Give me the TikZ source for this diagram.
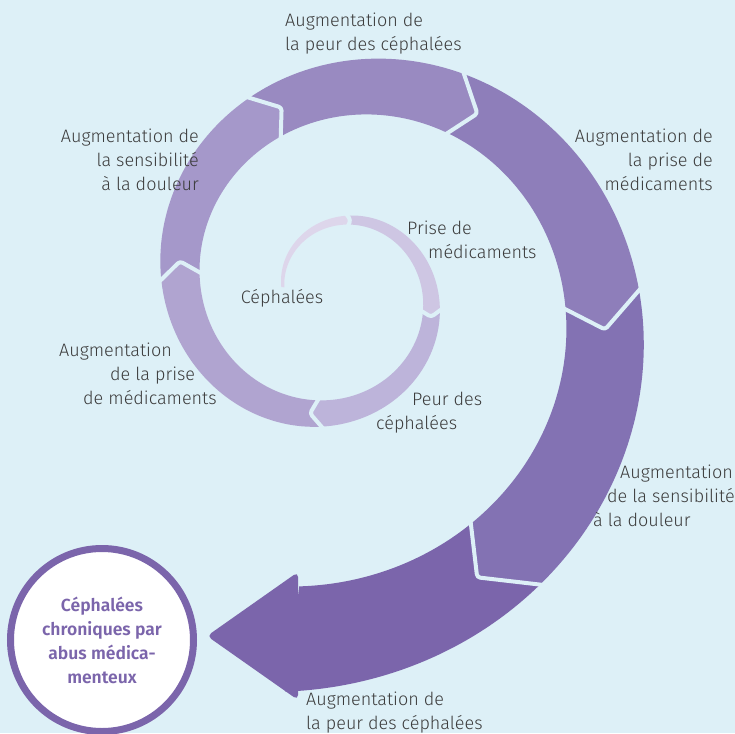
\documentclass[tikz,border=0pt]{standalone}
\usepackage{fontspec}
\setmainfont{Fira Sans}[UprightFont=* Light,BoldFont=* SemiBold]
\usepackage{xcolor}
\usetikzlibrary{calc}

\definecolor{backdrop}{HTML}{DDF0F7}
\definecolor{ink}{HTML}{3C3C3C}
\definecolor{turnA}{HTML}{DDD6EB}
\definecolor{turnB}{HTML}{CEC6E3}
\definecolor{turnC}{HTML}{BDB4DA}
\definecolor{turnD}{HTML}{B0A4D0}
\definecolor{turnE}{HTML}{A598CA}
\definecolor{turnF}{HTML}{998AC1}
\definecolor{turnG}{HTML}{8E7EBA}
\definecolor{turnH}{HTML}{8372B3}
\definecolor{turnI}{HTML}{7B65AB}

\begin{document}
\begin{tikzpicture}[x=1pt,y=-1pt,
    declare function={rmid(\t)=54.6*exp(0.0029152*\t);
      rwid(\t)=0.35*(rmid(\t)-51)+1.5;
      rout(\t)=rmid(\t)+rwid(\t)/2;
      rinn(\t)=rmid(\t)-rwid(\t)/2;
      lagout(\t)=deg(0.6*rwid(\t)/rout(\t));
      laginn(\t)=deg(0.2*rwid(\t)/rinn(\t));},
    lbl/.style={font=\fontsize{18}{24}\selectfont, text=ink, inner sep=0pt},
    seam/.style={draw=backdrop, line width=4pt, line join=round, line cap=round, rounded corners=3pt}]
  \useasboundingbox (0,0) rectangle (735,733);
  \fill[backdrop] (0,0) rectangle (735,733);

  % spiral band, one piece per step
  \begin{scope}[shift={(338,292)}]
    \foreach \a/\b/\ka/\kb/\col in {5/100/0/1/turnA, 100/195/1/1/turnB,
        195/283/1/1/turnC, 283/371/1/1/turnD, 371/433/1/1/turnE,
        433/488/1/1/turnF, 488/548/1/1/turnG, 548/604/1/1/turnH,
        604/637.5/1/0/turnI}{
      \pgfmathsetmacro\ao{\a-\ka*lagout(\a)}
      \pgfmathsetmacro\ai{\a-\ka*laginn(\a)}
      \pgfmathsetmacro\bo{\b-\kb*lagout(\b)}
      \pgfmathsetmacro\bi{\b-\kb*laginn(\b)}
      \fill[\col] plot[domain=\ao:\bo,samples=50] ({180+\x}:{rout(\x)})
        -- ({180+\b}:{rmid(\b)})
        -- plot[domain=\bi:\ai,samples=50] ({180+\x}:{rinn(\x)})
        -- ({180+\a}:{rmid(\a)}) -- cycle;
    }
    \foreach \p in {100,195,283,371,433,488,548,604}{
      \pgfmathsetmacro\po{\p-lagout(\p)}
      \pgfmathsetmacro\pn{\p-laginn(\p)}
      \draw[seam] ({180+\po}:{rout(\po)+2}) -- ({180+\p}:{rmid(\p)})
        -- ({180+\pn}:{rinn(\pn)-2});
    }
  \end{scope}
  % arrow head
  \fill[turnI, rounded corners=5pt] (298,572) -- (207,636) -- (298,700) -- cycle;

  \node[circle, draw=turnI, line width=7pt, fill=white, minimum size=183pt,
    inner sep=0pt, align=center, text=turnI,
    font=\bfseries\fontsize{17.5}{24}\selectfont] (abuse) at (102,640)
    {Céphalées\\chroniques par\\abus médica-\\menteux};

  \node[lbl] (start) at (282,298) {Céphalées};
  \node[lbl, anchor=north west, align=left] (prise) at (407,221)
    {Prise de\\\hspace*{21pt}médicaments};
  \node[lbl, anchor=north west, align=left] (peur) at (376,392)
    {\hspace*{36pt}Peur des\\céphalées};
  \node[lbl, anchor=north west, align=left] (prisetwo) at (59,343)
    {Augmentation\\\hspace*{51pt}de la prise\\\hspace*{24pt}de médicaments};
  \node[lbl, anchor=north east, align=right] (senstwo) at (199,129)
    {Augmentation de\\la sensibilité\\à la douleur};
  \node[lbl, anchor=north west, align=left] (peurtwo) at (285,13)
    {Augmentation de\\la peur des céphalées};
  \node[lbl, anchor=north east, align=right] (prisethree) at (713,129)
    {Augmentation de\\la prise de\\médicaments};
  \node[lbl, anchor=north west, align=left] (sensthree) at (593,465)
    {\hspace*{27pt}Augmentation\\\hspace*{14pt}de la sensibilité\\à la douleur};
  \node[lbl, anchor=north west, align=left] (peurthree) at (306,692)
    {Augmentation de\\la peur des céphalées};
\end{tikzpicture}
\end{document}
